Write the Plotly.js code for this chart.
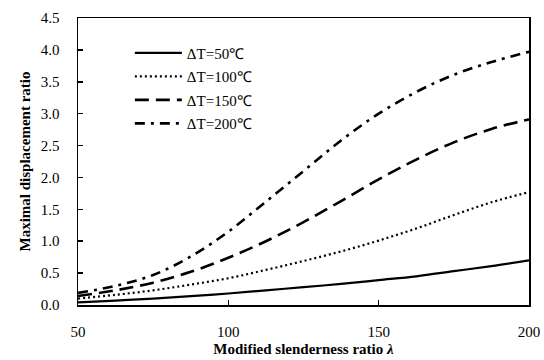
<!DOCTYPE html>
<html>
<head>
<meta charset="utf-8">
<script src="https://cdn.plot.ly/plotly-3.0.1.min.js"></script>
<style>html,body{margin:0;padding:0;background:#fff;}#chart{width:544px;height:360px;}</style>
</head>
<body>
<div id="chart"></div>
<script>
const lambda = [50, 62.5, 75, 87.5, 100, 112.5, 125, 137.5, 150, 162.5, 175, 187.5, 200];
const dT50  = [0.04, 0.07, 0.10, 0.14, 0.18, 0.23, 0.28, 0.33, 0.39, 0.45, 0.53, 0.61, 0.70];
const dT100 = [0.10, 0.16, 0.23, 0.32, 0.42, 0.55, 0.69, 0.84, 1.01, 1.20, 1.41, 1.61, 1.77];
const dT150 = [0.14, 0.23, 0.35, 0.52, 0.74, 1.00, 1.30, 1.63, 1.97, 2.28, 2.55, 2.76, 2.91];
const dT200 = [0.19, 0.30, 0.47, 0.76, 1.15, 1.62, 2.10, 2.58, 3.00, 3.34, 3.61, 3.81, 3.97];
const names = ['ΔT=50℃', 'ΔT=100℃', 'ΔT=150℃', 'ΔT=200℃'];
const xTicks = [50, 100, 150, 200];
const yTicks = [0, 0.5, 1.0, 1.5, 2.0, 2.5, 3.0, 3.5, 4.0, 4.5];

const series = [dT50, dT100, dT150, dT200];
const dashes = ['solid', '2px,3px', '14px,7px', '10px,6px,3px,6px'];
const widths = [2.2, 2.2, 2.6, 2.6];
const traces = series.map((ys, i) => ({
  x: lambda, y: ys, name: names[i], type: 'scatter', mode: 'lines',
  line: {color: '#000', width: widths[i], dash: dashes[i], shape: 'spline', smoothing: 1},
  legendgroup: 'g' + i
}));

const fam = 'Liberation Serif, Times New Roman, serif';
const font = {family: fam, size: 15, color: '#000'};
const layout = {
  width: 544, height: 360,
  margin: {l: 78, r: 15, t: 18, b: 55},
  paper_bgcolor: '#fff', plot_bgcolor: '#fff',
  font: font,
  showlegend: true,
  legend: {x: 0.115, y: 0.935, xanchor: 'left', yanchor: 'top', bgcolor: 'rgba(0,0,0,0)',
           font: font, itemwidth: 47, tracegroupgap: 1},
  xaxis: {
    range: [50, 200], tickvals: xTicks, ticktext: xTicks.map(String),
    ticks: 'inside', ticklen: 5, tickwidth: 1.5, tickcolor: '#000',
    showline: true, linecolor: '#000', linewidth: 1.5, mirror: true,
    showgrid: false, zeroline: false, ticklabelstandoff: 12,
    tickfont: font,
    title: {text: 'Modified slenderness ratio <i>λ</i>', font: {family: fam, size: 15, color: '#000', weight: 'bold'}, standoff: 5}
  },
  yaxis: {
    range: [0, 4.5], tickvals: yTicks, ticktext: yTicks.map(v => v.toFixed(1)),
    ticks: 'inside', ticklen: 5, tickwidth: 1.5, tickcolor: '#000',
    showline: true, linecolor: '#000', linewidth: 1.5, mirror: true,
    showgrid: false, zeroline: false, ticklabelstandoff: 14,
    tickfont: font,
    title: {text: 'Maximal displacement ratio', font: {family: fam, size: 15, color: '#000', weight: 'bold'}, standoff: 6}
  }
};
Plotly.newPlot('chart', traces, layout, {displayModeBar: false, staticPlot: true});
</script>
</body>
</html>
